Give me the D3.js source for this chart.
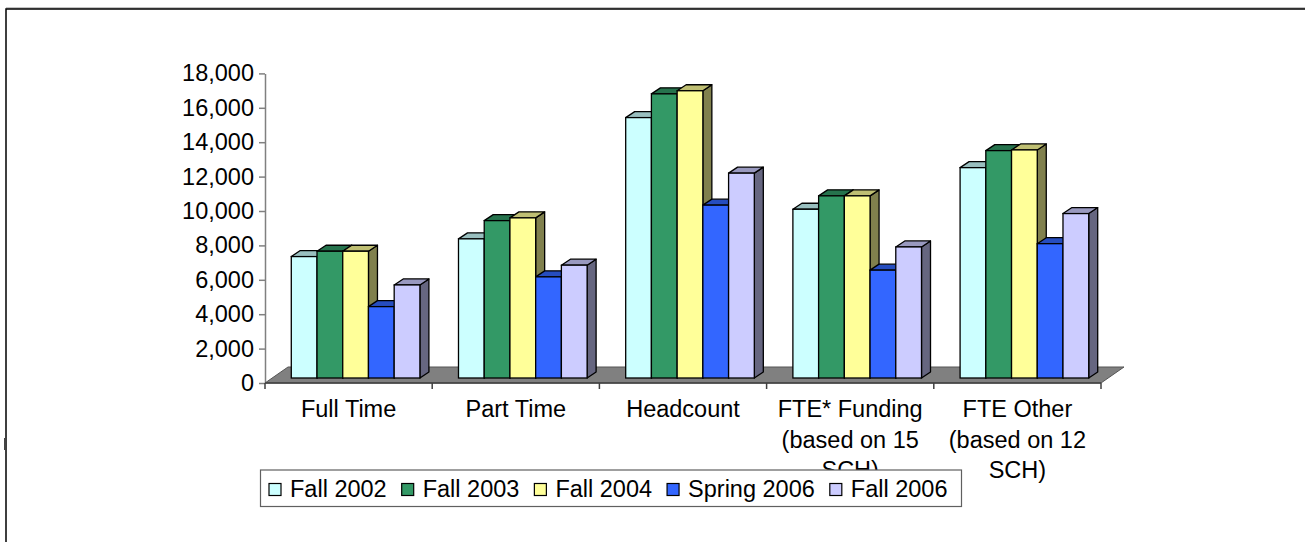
<!doctype html>
<html>
<head>
<meta charset="utf-8">
<script src="https://d3js.org/d3.v7.min.js"></script>
<style>
  body { margin: 0; background: #fff; }
  text { font-family: "Liberation Sans", Arial, sans-serif; fill: #000; }
</style>
</head>
<body>
<div class="chart"></div>
<script>
// data
var categories = ["Full Time", "Part Time", "Headcount", "FTE* Funding", "FTE Other"];
var catLabels = [["Full Time"], ["Part Time"], ["Headcount"],
                 ["FTE* Funding", "(based on 15", "SCH)"],
                 ["FTE Other", "(based on 12", "SCH)"]];
var seriesNames = ["Fall 2002", "Fall 2003", "Fall 2004", "Spring 2006", "Fall 2006"];
var fall2002   = [7060, 8090, 15140, 9810, 12230];
var fall2003   = [7370, 9150, 16520, 10590, 13220];
var fall2004   = [7370, 9310, 16700, 10590, 13260];
var spring2006 = [4150, 5880, 10050, 6270, 7810];
var fall2006   = [5410, 6560, 11910, 7620, 9560];
var yTicks = [0, 2000, 4000, 6000, 8000, 10000, 12000, 14000, 16000, 18000];

var colors = ["#CCFFFF", "#339966", "#FFFF99", "#3366FF", "#CCCCFF"];
var seriesData = [fall2002, fall2003, fall2004, spring2006, fall2006];

var width = 1305, height = 542;
var fs = '23.5px';
var svg = d3.select('.chart').append('svg')
  .attr('width', width).attr('height', height);

// outer frame
svg.append('line').attr('x1', 6).attr('x2', 1320).attr('y1', 8).attr('y2', 8)
  .attr('stroke', '#888').attr('stroke-width', 1);
svg.append('rect')
  .attr('x', 6).attr('y', 9).attr('width', 1320).attr('height', 560)
  .attr('fill', 'none').attr('stroke', '#000').attr('stroke-width', 1.5);
svg.append('rect')
  .attr('x', 4).attr('y', 438).attr('width', 2).attr('height', 12)
  .attr('fill', '#444');

var x0 = d3.scaleBand().domain(categories).range([265, 1101]).paddingInner(0).paddingOuter(0);
var x1 = d3.scaleBand().domain(seriesNames).range([0, x0.bandwidth()])
  .paddingInner(0).paddingOuter(0.75);
var y = d3.scaleLinear().domain([0, 18000]).range([383, 73.4]);

// depth offsets
var floorD = [23, -16];
var barOff = [7, -5];
var barD = [9, -6];

// floor
var fl = y(0);
svg.append('polygon')
  .attr('points', [[265, fl], [1101, fl], [1101 + floorD[0], fl + floorD[1]], [265 + floorD[0], fl + floorD[1]]].join(' '))
  .attr('fill', '#808080').attr('stroke', '#555').attr('stroke-width', 1);

// y axis
var yAxis = svg.append('g')
  .attr('transform', 'translate(265,0)')
  .call(d3.axisLeft(y).tickValues(yTicks).tickFormat(d3.format(',')).tickSize(6).tickPadding(5).tickSizeOuter(0));
yAxis.select('.domain').attr('stroke', '#808080').attr('stroke-width', 1.5);
yAxis.selectAll('.tick line').attr('stroke', '#808080').attr('stroke-width', 1.5);
yAxis.selectAll('.tick text').style('font-size', fs).attr('font-family', null);

// x axis line and ticks
svg.append('line').attr('x1', 265).attr('x2', 1101).attr('y1', fl).attr('y2', fl)
  .attr('stroke', '#404040').attr('stroke-width', 1.5);
var bounds = categories.map(function(c) { return x0(c); }).concat([x0(categories[categories.length - 1]) + x0.bandwidth()]);
svg.selectAll('.xtick').data(bounds).enter().append('line')
  .attr('x1', function(d) { return d; }).attr('x2', function(d) { return d; })
  .attr('y1', fl).attr('y2', fl + 6)
  .attr('stroke', '#404040').attr('stroke-width', 1.5);

// category labels
var lab = svg.selectAll('.xlab').data(categories).enter().append('text')
  .attr('text-anchor', 'middle')
  .style('font-size', fs);
lab.each(function(c, i) {
  var t = d3.select(this);
  catLabels[i].forEach(function(line, j) {
    t.append('tspan')
      .attr('x', x0(c) + x0.bandwidth() / 2)
      .attr('y', 417 + j * 30.5)
      .text(line);
  });
});

// bars
function shade(c, k) {
  var r = d3.rgb(c);
  return d3.rgb(r.r * k, r.g * k, r.b * k).formatHex();
}
var base = y(0) + barOff[1];
categories.forEach(function(c, ci) {
  var g = svg.append('g');
  seriesNames.forEach(function(s, si) {
    var v = seriesData[si][ci];
    var x = x0(c) + x1(s) + barOff[0];
    var w = x1.bandwidth();
    var top = y(v) + barOff[1];
    var col = colors[si];
    g.append('polygon')
      .attr('points', [[x + w, top], [x + w + barD[0], top + barD[1]], [x + w + barD[0], base + barD[1]], [x + w, base]].join(' '))
      .attr('fill', shade(col, 0.5)).attr('stroke', '#000').attr('stroke-width', 1.3).attr('stroke-linejoin', 'round');
    g.append('polygon')
      .attr('points', [[x, top], [x + barD[0], top + barD[1]], [x + w + barD[0], top + barD[1]], [x + w, top]].join(' '))
      .attr('fill', shade(col, 0.75)).attr('stroke', '#000').attr('stroke-width', 1.3).attr('stroke-linejoin', 'round');
    g.append('rect')
      .attr('x', x).attr('y', top).attr('width', w).attr('height', base - top)
      .attr('fill', col).attr('stroke', '#000').attr('stroke-width', 1.3);
  });
});

// legend
var leg = svg.append('g');
leg.append('rect')
  .attr('x', 260.5).attr('y', 470).attr('width', 701).attr('height', 36.5)
  .attr('fill', '#fff').attr('stroke', '#606060').attr('stroke-width', 1.2);
var lx = 269;
seriesNames.forEach(function(s, i) {
  leg.append('rect')
    .attr('x', lx).attr('y', 483.5).attr('width', 12).attr('height', 12)
    .attr('fill', colors[i]).attr('stroke', '#000').attr('stroke-width', 1.2);
  var t = leg.append('text')
    .attr('x', lx + 21).attr('y', 497)
    .style('font-size', fs)
    .text(s);
  lx = lx + 21 + t.node().getComputedTextLength() + 15;
});
</script>
</body>
</html>
